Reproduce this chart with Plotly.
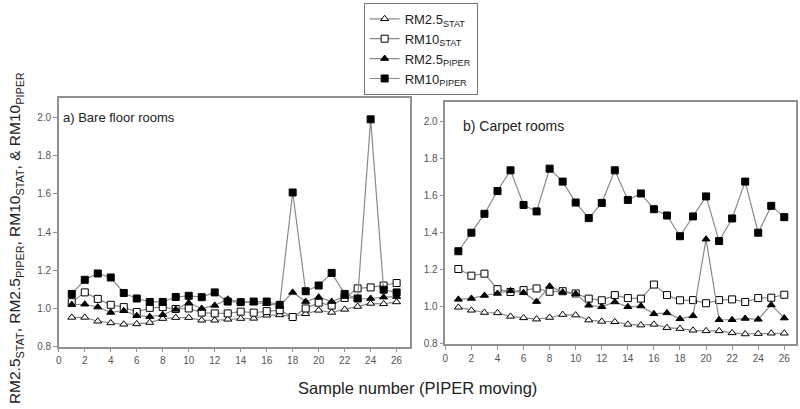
import plotly.graph_objects as go

samples = list(range(1, 27))

# a) Bare floor rooms
bare_rm25_stat = [0.953, 0.953, 0.933, 0.924, 0.917, 0.919, 0.926, 0.947, 0.952, 0.952, 0.938, 0.938, 0.943,
                  0.947, 0.948, 0.964, 0.966, 0.957, 0.972, 0.990, 0.979, 0.995, 1.010, 1.026, 1.024, 1.034]
bare_rm10_stat = [1.033, 1.084, 1.050, 1.019, 1.007, 0.981, 1.003, 1.007, 0.997, 1.000, 0.978, 0.974, 0.974,
                  0.983, 0.978, 0.986, 0.991, 0.955, 1.000, 1.030, 1.015, 1.055, 1.105, 1.110, 1.120, 1.133]
bare_rm25_piper = [1.020, 1.022, 1.007, 0.979, 0.988, 0.962, 0.957, 0.967, 0.995, 1.029, 1.000, 1.016, 1.048,
                   1.033, 1.030, 1.025, 1.015, 1.084, 1.036, 1.059, 1.036, 1.062, 1.050, 1.052, 1.059, 1.062]
bare_rm10_piper = [1.076, 1.150, 1.183, 1.162, 1.081, 1.052, 1.034, 1.034, 1.060, 1.066, 1.059, 1.084, 1.036,
                   1.033, 1.036, 1.036, 1.019, 1.607, 1.090, 1.120, 1.186, 1.076, 1.052, 1.990, 1.098, 1.084]

# b) Carpet rooms
carp_rm25_stat = [0.997, 0.981, 0.969, 0.967, 0.948, 0.940, 0.933, 0.942, 0.958, 0.955, 0.928, 0.921, 0.919,
                  0.905, 0.901, 0.905, 0.887, 0.882, 0.873, 0.870, 0.870, 0.859, 0.853, 0.855, 0.857, 0.857]
carp_rm10_stat = [1.204, 1.168, 1.179, 1.095, 1.080, 1.090, 1.099, 1.081, 1.084, 1.072, 1.044, 1.035, 1.063,
                  1.047, 1.044, 1.120, 1.063, 1.035, 1.036, 1.019, 1.036, 1.040, 1.026, 1.047, 1.049, 1.065]
carp_rm25_piper = [1.040, 1.045, 1.061, 1.072, 1.086, 1.076, 1.028, 1.111, 1.079, 1.070, 1.008, 1.000, 1.026,
                   1.000, 1.004, 0.962, 0.967, 0.935, 0.951, 1.365, 0.930, 0.930, 0.937, 0.932, 1.010, 0.939]
carp_rm10_piper = [1.300, 1.400, 1.502, 1.625, 1.737, 1.550, 1.515, 1.746, 1.676, 1.563, 1.479, 1.561, 1.737,
                   1.577, 1.612, 1.527, 1.493, 1.381, 1.488, 1.596, 1.355, 1.477, 1.676, 1.400, 1.545, 1.484]

names = ["RM2.5<sub>STAT</sub>", "RM10<sub>STAT</sub>", "RM2.5<sub>PIPER</sub>", "RM10<sub>PIPER</sub>"]
x_ticks = list(range(0, 27, 2))
y_ticks = [0.8, 1.0, 1.2, 1.4, 1.6, 1.8, 2.0]

styles = [
    dict(symbol="triangle-up", color="white"),
    dict(symbol="square", color="white"),
    dict(symbol="triangle-up", color="black"),
    dict(symbol="square", color="black"),
]

fig = go.Figure()
bare = [bare_rm25_stat, bare_rm10_stat, bare_rm25_piper, bare_rm10_piper]
carp = [carp_rm25_stat, carp_rm10_stat, carp_rm25_piper, carp_rm10_piper]
for i in range(4):
    st = styles[i]
    for data, xa, ya, show in [(bare[i], "x", "y", True), (carp[i], "x2", "y2", False)]:
        fig.add_trace(go.Scatter(
            x=samples, y=data, xaxis=xa, yaxis=ya, mode="lines+markers", name=names[i],
            showlegend=show, line=dict(color="#8a8a8a", width=1.2),
            marker=dict(symbol=st["symbol"], size=7, color=st["color"],
                        line=dict(color="black", width=1)),
        ))

axis_common = dict(showline=True, linecolor="#909090", linewidth=1.5, mirror=True,
                   ticks="outside", ticklen=4, tickcolor="#909090", showgrid=False, zeroline=False,
                   tickfont=dict(size=10, color="#555555"))

fig.update_layout(
    width=800, height=409, margin=dict(l=0, r=0, t=0, b=0),
    paper_bgcolor="white", plot_bgcolor="white",
    font=dict(family="Arial, Liberation Sans, sans-serif", color="#222222"),
    xaxis=dict(domain=[0.07, 0.511], range=[0, 27.05], tickvals=x_ticks, anchor="y", **axis_common),
    yaxis=dict(domain=[0.142, 0.758], range=[0.8, 2.103], tickvals=y_ticks, tickformat=".1f",
               anchor="x", **axis_common),
    xaxis2=dict(domain=[0.555, 0.995], range=[0, 26.9], tickvals=x_ticks, anchor="y2", **axis_common),
    yaxis2=dict(domain=[0.149, 0.748], range=[0.8, 2.107], tickvals=y_ticks, tickformat=".1f",
                anchor="x2", **axis_common),
    legend=dict(x=0.4525, y=0.993, xanchor="left", yanchor="top", bordercolor="#777777", borderwidth=1,
                bgcolor="white", font=dict(size=13, color="#222222"), tracegroupgap=0,
                itemwidth=30),
    annotations=[
        dict(text="a) Bare floor rooms", xref="x domain", yref="y domain", x=0.005, y=0.92,
             xanchor="left", yanchor="middle", showarrow=False, font=dict(size=13)),
        dict(text="b) Carpet rooms", xref="x2 domain", yref="y2 domain", x=0.045, y=0.9,
             xanchor="left", yanchor="middle", showarrow=False, font=dict(size=14)),
        dict(text="Sample number (PIPER moving)", xref="paper", yref="paper", x=0.52, y=0.04,
             xanchor="center", yanchor="middle", showarrow=False, font=dict(size=16.5)),
        dict(text="RM2.5<sub>STAT</sub>, RM2.5<sub>PIPER</sub>, RM10<sub>STAT</sub>, & RM10<sub>PIPER</sub>",
             xref="paper", yref="paper", x=0.016, y=0.41, textangle=-90,
             xanchor="center", yanchor="middle", showarrow=False, font=dict(size=15.5)),
    ],
)

fig.write_html("out.html", config={"displayModeBar": False},
               post_script="document.body.style.margin='0';")
